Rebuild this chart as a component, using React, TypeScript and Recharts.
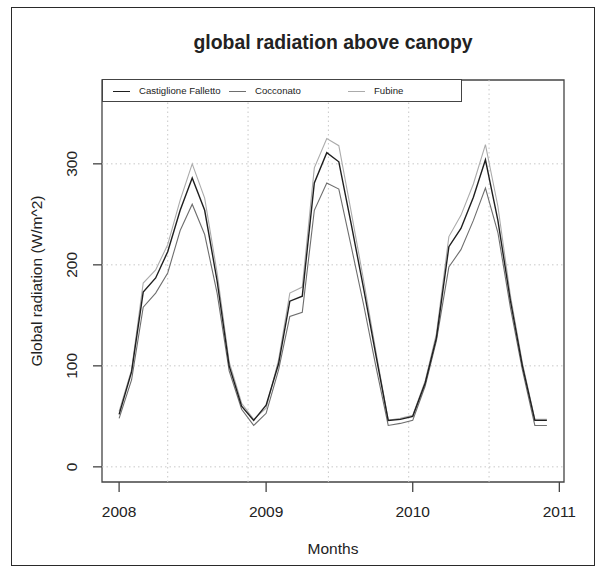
import React from 'react';
import { LineChart, Line, XAxis, YAxis, ReferenceLine, ReferenceArea, Legend } from 'recharts';

// Monthly mean global radiation above canopy (W/m^2), Jan 2008 – Dec 2010
const months = [
  '2008-01', '2008-02', '2008-03', '2008-04', '2008-05', '2008-06',
  '2008-07', '2008-08', '2008-09', '2008-10', '2008-11', '2008-12',
  '2009-01', '2009-02', '2009-03', '2009-04', '2009-05', '2009-06',
  '2009-07', '2009-08', '2009-09', '2009-10', '2009-11', '2009-12',
  '2010-01', '2010-02', '2010-03', '2010-04', '2010-05', '2010-06',
  '2010-07', '2010-08', '2010-09', '2010-10', '2010-11', '2010-12',
];

const castiglioneFalletto = [
  52, 94, 173, 187, 213, 254, 286, 254, 184, 100, 60, 46,
  61, 102, 164, 169, 281, 311, 302, 240, 176, 111, 46, 47,
  50, 83, 128, 218, 236, 267, 304, 244, 165, 100, 46, 46,
];

const cocconato = [
  48, 86, 158, 172, 192, 234, 260, 230, 172, 95, 57, 41,
  53, 96, 149, 153, 254, 281, 275, 218, 160, 100, 41, 43,
  46, 80, 125, 198, 215, 244, 276, 232, 158, 96, 41, 41,
];

const fubine = [
  55, 96, 182, 195, 220, 264, 300, 266, 192, 104, 63, 47,
  58, 106, 172, 178, 296, 325, 318, 252, 184, 115, 46, 48,
  51, 85, 132, 228, 249, 280, 319, 258, 170, 103, 47, 47,
];

const yearTicks = ['2008', '2009', '2010', '2011'];
const radiationTicks = [0, 100, 200, 300];
// grid positions, in days since 1970-01-01
const gridDays = [14000, 14200, 14400, 14600, 14800];

const seriesNames = ['Castiglione Falletto', 'Cocconato', 'Fubine'];

const FONT = '"Liberation Sans", Arial, Helvetica, sans-serif';
const TEXT = '#222';
const FRAME = '#444';
const GRID = '#c8c8c8';

const dayOf = (ym: string) => {
  const [y, m] = ym.split('-').map(Number);
  return Date.UTC(y, m - 1, 1) / 86400000;
};

const data = months.map((m, i) => ({
  day: dayOf(m),
  castiglione: castiglioneFalletto[i],
  cocconato: cocconato[i],
  fubine: fubine[i],
}));

const yearDays = yearTicks.map((y) => dayOf(`${y}-01`));

// 4% padding on each side of the data range
const first = data[0].day;
const last = data[data.length - 1].day;
const pad = (last - first) * 0.04;
const xDomain: [number, number] = [first - pad, last + pad];
const yDomain: [number, number] = [-15, 383];

const XTick = (props: any) => {
  const { x, y, payload } = props;
  const year = new Date(payload.value * 86400000).getUTCFullYear();
  return (
    <text x={x} y={y + 23} textAnchor="middle" fill={TEXT} fontSize={15.5} fontFamily={FONT}>
      {year}
    </text>
  );
};

const YTick = (props: any) => {
  const { x, y, payload } = props;
  const bx = x - 14;
  return (
    <text
      x={bx}
      y={y}
      transform={`rotate(-90 ${bx} ${y})`}
      textAnchor="middle"
      fill={TEXT}
      fontSize={15.5}
      fontFamily={FONT}
    >
      {payload.value}
    </text>
  );
};

const YTitle = (props: any) => {
  const vb = props.viewBox || { x: 0, y: 80, height: 402 };
  const bx = vb.x + 41.5;
  const cy = vb.y + vb.height / 2;
  return (
    <text
      x={bx}
      y={cy}
      transform={`rotate(-90 ${bx} ${cy})`}
      textAnchor="middle"
      fill={TEXT}
      fontSize={15.5}
      fontFamily={FONT}
    >
      Global radiation (W/m^2)
    </text>
  );
};

const LegendBox = (props: any) => {
  const payload = props.payload || [];
  const starts = [10, 126, 245];
  return (
    <div
      style={{
        position: 'relative',
        width: 360,
        height: 23,
        boxSizing: 'border-box',
        border: `1.3px solid ${FRAME}`,
        background: '#fff',
        fontFamily: FONT,
        fontSize: 9.6,
        color: TEXT,
      }}
    >
      {payload.map((entry: any, i: number) => (
        <div key={entry.value} style={{ position: 'absolute', left: starts[i], top: 0, height: 21 }}>
          <div
            style={{
              position: 'absolute',
              left: 0,
              top: 10.5,
              width: 17,
              height: 0,
              borderTop: `${i === 0 ? 1.4 : 1.1}px solid ${entry.color}`,
            }}
          />
          <span style={{ position: 'absolute', left: 26, top: 4.5, whiteSpace: 'nowrap', lineHeight: '12px' }}>
            {entry.value}
          </span>
        </div>
      ))}
    </div>
  );
};

export default function App() {
  return (
    <div
      style={{
        position: 'absolute',
        left: 0,
        top: 0,
        width: 596,
        height: 568,
        background: '#fff',
        fontFamily: FONT,
      }}
    >
      <div
        style={{
          position: 'absolute',
          left: 11,
          top: 7,
          width: 584,
          height: 559,
          boxSizing: 'border-box',
          border: '1.5px solid #2a2a2a',
        }}
      />
      <div
        style={{
          position: 'absolute',
          left: 102,
          top: 31,
          width: 462,
          textAlign: 'center',
          fontWeight: 'bold',
          fontSize: 19.4,
          lineHeight: '22px',
          color: TEXT,
        }}
      >
        global radiation above canopy
      </div>
      <LineChart
        width={596}
        height={568}
        data={data}
        margin={{ top: 80, right: 32, bottom: 0, left: 0 }}
        style={{ position: 'absolute', left: 0, top: 0 }}
      >
        {gridDays.map((d) => (
          <ReferenceLine key={`v${d}`} x={d} stroke={GRID} strokeDasharray="1.5 3" strokeWidth={1} />
        ))}
        {radiationTicks.map((v) => (
          <ReferenceLine key={`h${v}`} y={v} stroke={GRID} strokeDasharray="1.5 3" strokeWidth={1} />
        ))}
        <XAxis
          dataKey="day"
          type="number"
          domain={xDomain}
          allowDataOverflow
          ticks={yearDays}
          height={86}
          tickSize={10}
          tickMargin={2}
          axisLine={false}
          tickLine={{ stroke: FRAME, strokeWidth: 1.3 }}
          tick={<XTick />}
          label={{
            value: 'Months',
            position: 'insideBottom',
            offset: 14.5,
            fill: TEXT,
            fontSize: 15.5,
            fontFamily: FONT,
          }}
        />
        <YAxis
          type="number"
          domain={yDomain}
          allowDataOverflow
          ticks={radiationTicks}
          width={102}
          tickSize={9}
          tickMargin={2}
          axisLine={false}
          tickLine={{ stroke: FRAME, strokeWidth: 1.3 }}
          tick={<YTick />}
          label={YTitle}
        />
        <ReferenceArea
          x1={xDomain[0]}
          x2={xDomain[1]}
          y1={yDomain[0]}
          y2={yDomain[1]}
          fill="none"
          fillOpacity={0}
          stroke={FRAME}
          strokeWidth={1.3}
        />
        <Line
          dataKey="fubine"
          name={seriesNames[2]}
          type="linear"
          stroke="#ababab"
          strokeWidth={1.1}
          dot={false}
          isAnimationActive={false}
        />
        <Line
          dataKey="cocconato"
          name={seriesNames[1]}
          type="linear"
          stroke="#6e6e6e"
          strokeWidth={1.1}
          dot={false}
          isAnimationActive={false}
        />
        <Line
          dataKey="castiglione"
          name={seriesNames[0]}
          type="linear"
          stroke="#1f1f1f"
          strokeWidth={1.4}
          dot={false}
          isAnimationActive={false}
        />
        <Legend
          layout="vertical"
          align="center"
          verticalAlign="middle"
          content={(p: any) => {
            const ordered = seriesNames
              .map((n) => (p.payload || []).find((e: any) => e.value === n))
              .filter(Boolean);
            return <LegendBox payload={ordered} />;
          }}
          wrapperStyle={{ left: 102, top: 79, width: 360, height: 23 }}
        />
      </LineChart>
    </div>
  );
}
